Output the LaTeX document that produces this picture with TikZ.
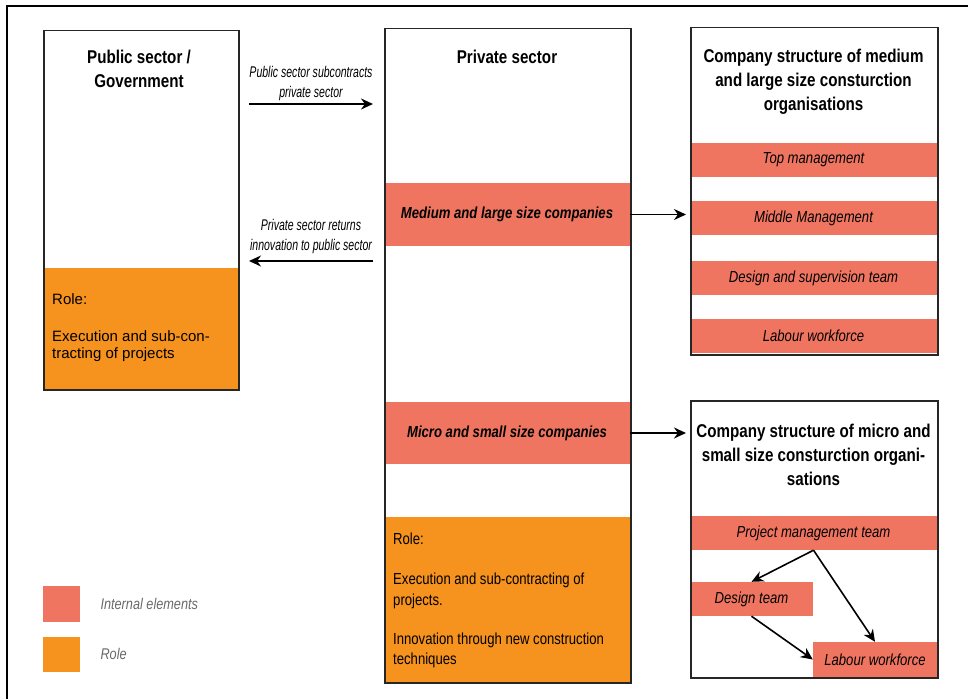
\documentclass[tikz,border=0pt]{standalone}
\usepackage{fontspec}
\setmainfont{Liberation Sans}
\newfontfamily\condfont{Liberation Sans}[FakeStretch=0.82]
\newfontfamily\xcondfont{Liberation Sans}[FakeStretch=0.68]
\usetikzlibrary{arrows.meta}
\definecolor{intred}{RGB}{240,117,97}
\definecolor{roleorange}{RGB}{246,146,30}
\definecolor{legendgray}{RGB}{105,105,105}
\tikzstyle{boxframe} = [draw=black!85, line width=1.5pt, inner sep=0pt, anchor=north west]
\tikzstyle{band}     = [fill=intred, inner sep=0pt, font=\condfont\itshape\fontsize{16}{19}\selectfont]
\tikzstyle{bigband}  = [band, font=\condfont\bfseries\itshape\fontsize{16}{19}\selectfont]
\tikzstyle{rolefill} = [fill=roleorange, inner sep=0pt, anchor=north west]
\tikzstyle{roletext} = [anchor=north west, align=left, inner sep=0pt]
\tikzstyle{heading}  = [align=center, font=\condfont\bfseries\fontsize{18.5}{24}\selectfont]
\tikzstyle{flowlabel}= [align=center, font=\xcondfont\itshape\fontsize{15.5}{20.5}\selectfont]
\tikzstyle{arr}      = [-{Stealth[length=12pt,width=11pt]}, line width=1.6pt]

\begin{document}
\begin{tikzpicture}[x=1pt,y=-1pt]
    \useasboundingbox (0,0) rectangle (968,698);
    \draw[line width=1.5pt] (7,6) rectangle (985,715);

    % coloured parts first, frames on top
    \node[rolefill, minimum width=195, minimum height=121] (pubrole) at (43,268) {};
    \node[rolefill, minimum width=246, minimum height=165] (privrole) at (384,517) {};
    \node[bigband, minimum width=246, minimum height=63] (medium) at (507,214.5) {Medium and large size companies};
    \node[bigband, minimum width=246, minimum height=62] (micro) at (507,433) {Micro and small size companies};
    \foreach \y/\t/\n in {160/Top management/topm, 218/Middle Management/midm,
                          278/Design and supervision team/dsgm, 336/Labour workforce/labm} {
      \node[band, minimum width=247, minimum height=34] (\n) at (813.5,\y) {\t};
    }
    \node[band, minimum width=247, minimum height=34] (pmteam) at (813.5,533) {Project management team};
    \node[band, minimum width=123, minimum height=34] (design) at (751.5,599) {Design team};
    \node[band, minimum width=124, minimum height=35] (labour) at (875,659.5) {Labour workforce};

    \node[boxframe, minimum width=195, minimum height=359] (public) at (43,30) {};
    \node[boxframe, minimum width=246, minimum height=654] (private) at (384,28) {};
    \node[boxframe, minimum width=247, minimum height=327] (largeorg) at (690,27) {};
    \node[boxframe, minimum width=247, minimum height=277] (smallorg) at (690,400) {};

    \node[heading] (pubtitle) at (139,69) {Public sector /\\Government};
    \node[heading] (privtitle) at (507,57) {Private sector};
    \node[heading] (largetitle) at (813.5,82) {Company structure of medium\\and large size consturction\\organisations};
    \node[heading] (smalltitle) at (813.5,455) {Company structure of micro and\\small size consturction organi-\\sations};

    \node[roletext, font=\fontsize{15}{17}\selectfont] (pubroletxt) at (52,293)
      {Role:\\[20pt]Execution and sub-con-\\tracting of projects};
    \node[roletext, font=\condfont\fontsize{16}{20.5}\selectfont] (privroletxt) at (393,533)
      {Role:\\[19.5pt]Execution and sub-contracting of\\projects.\\[18.5pt]Innovation through new construction\\techniques};

    % flows between the sectors
    \coordinate (subfrom) at (249,104);
    \coordinate (subto) at (373,104);
    \coordinate (retfrom) at (373,261);
    \coordinate (retto) at (249,261);
    \draw[arr] (subfrom) -- (subto) node[flowlabel, midway, above=-1pt] {Public sector subcontracts\\private sector};
    \draw[arr] (retfrom) -- (retto) node[flowlabel, midway, above=3pt] {Private sector returns\\innovation to public sector};

    \draw[arr, shorten >=4pt] (medium.east) -- (medium.east -| largeorg.west);
    \draw[arr, shorten >=4pt] (micro.east) -- (micro.east -| smallorg.west);
    \draw[arr] (pmteam.south) -- (design.north);
    \draw[arr] (pmteam.south) -- (labour.north);
    \draw[arr] (design.south) -- (labour.west);

    % legend
    \node[fill=intred, minimum width=37, minimum height=36, inner sep=0pt] (keyint) at (61.5,604) {};
    \node[fill=roleorange, minimum width=37, minimum height=35, inner sep=0pt] (keyrole) at (61.5,654.5) {};
    \node[anchor=west, text=legendgray, font=\condfont\itshape\fontsize{15.5}{18}\selectfont] (keyinttxt) at (97,604) {Internal elements};
    \node[anchor=west, text=legendgray, font=\condfont\itshape\fontsize{15.5}{18}\selectfont] (keyroletxt) at (97,654) {Role};
\end{tikzpicture}
\end{document}
